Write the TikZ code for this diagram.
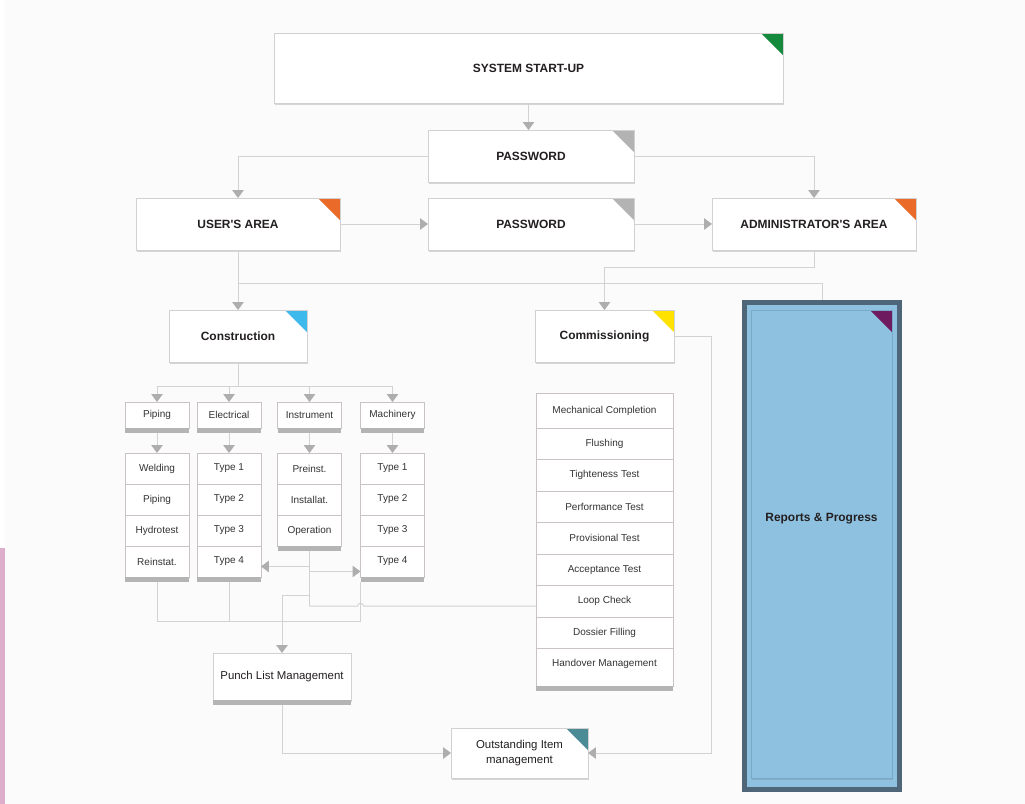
\documentclass[tikz,border=0pt]{standalone}
\usepackage{fontspec}
\setmainfont{Liberation Sans}
\usepackage{xcolor}
\usepackage{tikz}
\usetikzlibrary{arrows.meta, positioning, shadows}

\definecolor{bgpanel}{HTML}{FBFBFB}
\definecolor{pinkstrip}{HTML}{DCAECB}
\definecolor{boxline}{HTML}{D2D0D0}
\definecolor{itemline}{HTML}{C9C3C3}
\definecolor{linegray}{HTML}{D3D1D1}
\definecolor{arrowgray}{HTML}{AEAEAE}
\definecolor{bargray}{HTML}{B4B4B4}
\definecolor{textdark}{HTML}{231F20}
\definecolor{textsmall}{HTML}{333333}
\definecolor{tabgreen}{HTML}{168A3C}
\definecolor{tabgray}{HTML}{B3B3B3}
\definecolor{taborange}{HTML}{EA6A2A}
\definecolor{tabcyan}{HTML}{3DB9EC}
\definecolor{tabyellow}{HTML}{FFE200}
\definecolor{tabpurple}{HTML}{6E1C5F}
\definecolor{tabteal}{HTML}{4A8B95}
\definecolor{repblue}{HTML}{8EC0DF}
\definecolor{repframe}{HTML}{4E6677}
\definecolor{repline}{HTML}{78A9C7}

\begin{document}
\begin{tikzpicture}[
    x=0.02cm, y=-0.02cm,
    node distance=0pt,
    box/.style={rectangle, draw=boxline, fill=white, inner sep=0pt, outer sep=0pt, align=center, text=textdark, font=\fontsize{6.8}{8}\selectfont\bfseries, drop shadow={shadow xshift=0.4pt, shadow yshift=-0.9pt, opacity=0.3}},
    plainbox/.style={box, font=\fontsize{6.5}{9}\selectfont},
    cornertab/.style={path picture={\fill[#1] (path picture bounding box.north east) -- ++(-0.44cm,0pt) -- ++(0.44cm,-0.44cm) -- cycle;}},
    colhead/.style={rectangle, draw=itemline, fill=white, inner sep=0pt, outer sep=0pt, minimum width=1.28cm, minimum height=0.52cm, text=textsmall, font=\fontsize{5.7}{7}\selectfont},
    listitem/.style={colhead, minimum height=0.62cm},
    commitem/.style={listitem, minimum width=2.74cm, minimum height=0.63cm},
    barfill/.style={fill=bargray},
    link/.style={draw=linegray, line width=0.55pt},
    arrow/.style={link, -{Triangle[width=6.5pt, length=4.5pt, color=arrowgray]}}
]
    % Background
    \useasboundingbox (0,0) rectangle (1025,804);
    \fill[bgpanel] (5,0) rectangle (1025,804);
    \fill[pinkstrip] (0,548) rectangle (5,804);

    % Top levels
    \node[box, cornertab=tabgreen, minimum width=10.18cm, minimum height=1.40cm] (start) at (528.5,68) {SYSTEM START-UP};
    \node[box, cornertab=tabgray, minimum width=4.12cm, minimum height=1.04cm] (pwtop) at (531,156) {PASSWORD};
    \node[box, cornertab=taborange, minimum width=4.08cm, minimum height=1.04cm] (user) at (238,224) {USER\textquotesingle S AREA};
    \node[box, cornertab=tabgray, minimum width=4.12cm, minimum height=1.04cm] (pwmid) at (531,224) {PASSWORD};
    \node[box, cornertab=taborange, minimum width=4.08cm, minimum height=1.04cm] (admin) at (814,224) {ADMINISTRATOR\textquotesingle S AREA};

    % Second level
    \node[box, cornertab=tabcyan, minimum width=2.76cm, minimum height=1.04cm] (constr) at (238,336) {Construction};
    \node[box, cornertab=tabyellow, minimum width=2.78cm, minimum height=1.04cm] (comm) at (604.5,336) {Commissioning};

    % Reports panel
    \node[fill=repframe, inner sep=0pt, outer sep=0pt, minimum width=3.2cm, minimum height=9.84cm] (reports) at (822,546) {};
    \node[fill=repblue, inner sep=0pt, minimum width=3.0cm, minimum height=9.64cm] (repin) at (reports) {};
    \node[box, fill=repblue, draw=repline, cornertab=tabpurple, minimum width=2.82cm, minimum height=9.36cm, text depth=1.08cm] (reptext) at (821.5,544) {Reports \& Progress};

    % Construction columns
    \node[colhead] (pip) at (157,415) {Piping};
    \node[colhead] (ele) at (229,415) {Electrical};
    \node[colhead] (ins) at (309.5,415) {Instrument};
    \node[colhead] (mac) at (392.5,415) {Machinery};

    \node[listitem] (pip1) at (157,468.5) {Welding};
    \node[listitem, below=of pip1] (pip2) {Piping};
    \node[listitem, below=of pip2] (pip3) {Hydrotest};
    \node[listitem, below=of pip3] (pip4) {Reinstat.};

    \node[listitem] (ele1) at (229,468.5) {Type 1};
    \node[listitem, below=of ele1] (ele2) {Type 2};
    \node[listitem, below=of ele2] (ele3) {Type 3};
    \node[listitem, below=of ele3] (ele4) {Type 4};

    \node[listitem] (ins1) at (309.5,468.5) {Preinst.};
    \node[listitem, below=of ins1] (ins2) {Installat.};
    \node[listitem, below=of ins2] (ins3) {Operation};

    \node[listitem] (mac1) at (392.5,468.5) {Type 1};
    \node[listitem, below=of mac1] (mac2) {Type 2};
    \node[listitem, below=of mac2] (mac3) {Type 3};
    \node[listitem, below=of mac3] (mac4) {Type 4};

    % Commissioning list
    \node[commitem, minimum height=0.70cm] (cl1) at (604.5,410.5) {Mechanical Completion};
    \node[commitem, below=of cl1] (cl2) {Flushing};
    \node[commitem, below=of cl2] (cl3) {Tighteness Test};
    \node[commitem, below=of cl3] (cl4) {Performance Test};
    \node[commitem, below=of cl4] (cl5) {Provisional Test};
    \node[commitem, below=of cl5] (cl6) {Acceptance Test};
    \node[commitem, below=of cl6] (cl7) {Loop Check};
    \node[commitem, below=of cl7] (cl8) {Dossier Filling};
    \node[commitem, minimum height=0.76cm, text depth=0.2cm, below=of cl8] (cl9) {Handover Management};

    % Bottom
    \node[plainbox, minimum width=2.76cm, minimum height=0.94cm] (punch) at (282,676.5) {Punch List Management};
    \node[plainbox, cornertab=tabteal, minimum width=2.74cm, minimum height=1.0cm] (out) at (519.5,753) {Outstanding Item\\management};

    % Grey bars
    \foreach \n in {pip,ele,ins,mac,pip4,ele4,ins3,mac4,cl9,punch}
        \fill[barfill] (\n.south west) rectangle ([yshift=-0.1cm]\n.south east);

    % Arrows
    \draw[arrow] (start.south) -- (start.south |- pwtop.north);
    \draw[arrow] (pwtop.west) -| (user.north);
    \draw[arrow] (pwtop.east) -| (admin.north);
    \draw[arrow] (user.east) -- (pwmid.west);
    \draw[arrow] (pwmid.east) -- (admin.west);
    \draw[arrow] (user.south) -- (constr.north);
    \coordinate (usplit) at (238,283);
    \draw[link] (usplit) -| (reports.north);
    \draw[arrow] (admin.south) -- ++(0,17) -| (comm.north);

    \draw[link] (constr.south) -- ++(0,24) coordinate (cbus);
    \draw[link] (pip.north |- cbus) -- (mac.north |- cbus);
    \foreach \n in {pip,ele,ins,mac} {
        \draw[arrow] (\n.north |- cbus) -- (\n.north);
        \draw[arrow] ([yshift=-0.1cm]\n.south) -- (\n1.north);
    }

    \coordinate (insout) at ([yshift=-0.1cm]ins3.south);
    \coordinate (eletip) at ([yshift=-0.1cm]ele4.east);
    \coordinate (mactip) at ([yshift=-0.2cm]mac4.west);
    \draw[arrow] (insout |- eletip) -- (eletip);
    \draw[arrow] (insout |- mactip) -- (mactip);
    \coordinate (loopin) at ([yshift=-0.1cm]cl7.west);
    \coordinate (hopc) at (mac4.west |- loopin);
    \draw[link] (insout) |- ([xshift=-0.06cm]hopc) arc[start angle=180, end angle=0, radius=0.06cm] -- (loopin);
    \draw[arrow] (insout) ++(0,44) -| (punch.north);

    \draw[link] ([yshift=-0.1cm]pip4.south) -- ++(0,40) coordinate (lbus) -| ([yshift=-0.1cm]mac4.south west);
    \draw[link] ([yshift=-0.1cm]ele4.south) -- (ele4.south |- lbus);

    \draw[arrow] ([yshift=-0.1cm]punch.south) |- (out.west);
    \draw[arrow] (comm.east) -- ++(37,0) |- (out.east);
\end{tikzpicture}
\end{document}
